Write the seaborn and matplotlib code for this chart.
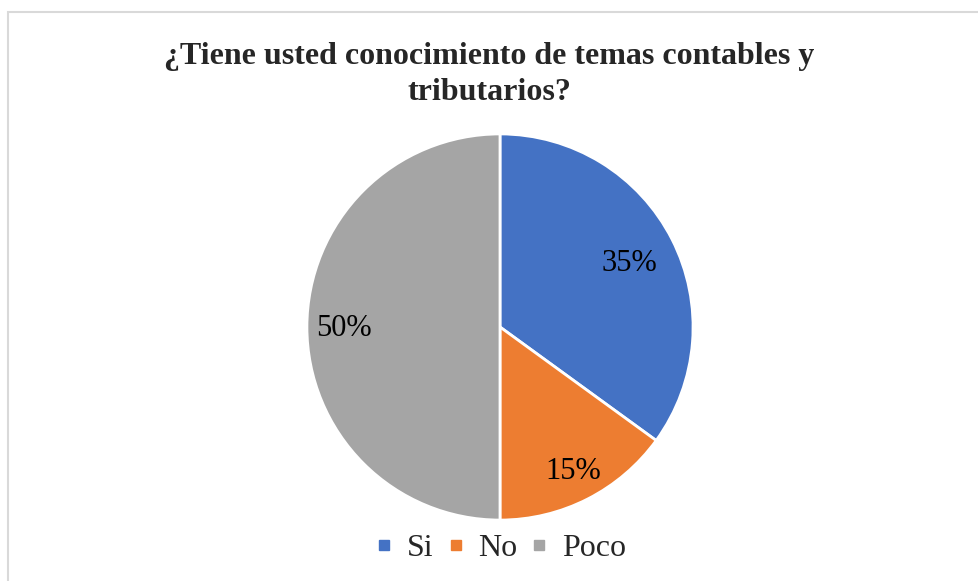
import numpy as np
import pandas as pd
import seaborn as sns
from matplotlib import pyplot as plt
from matplotlib.patches import Rectangle
from matplotlib.lines import Line2D

categories = ['Si', 'No', 'Poco']
values = [35, 15, 50]
colors = ['#4472C4', '#ED7D31', '#A5A5A5']
title = '¿Tiene usted conocimiento de temas contables y\ntributarios?'

sns.set_theme(style="white")
plt.rcParams['font.family'] = ['Liberation Serif', 'DejaVu Serif']

data = pd.DataFrame({'respuesta': categories, 'pct': values})

fig = plt.figure(figsize=(9.79, 5.81), dpi=100)
# light frame of the chart area (cropped on right/bottom)
fig.patches.append(Rectangle((8 / 979, -0.05), 1.1, 1 - 12 / 581 + 0.05,
                             transform=fig.transFigure, fill=False,
                             edgecolor='#D9D9D9', linewidth=1.5))

r = 195
cx, cy = 500, 327
ax = fig.add_axes([(cx - r) / 979, 1 - (cy + r) / 581, 2 * r / 979, 2 * r / 581])
wedges, texts, autotexts = ax.pie(data['pct'], colors=colors, startangle=90,
                                  counterclock=False, autopct='%1.0f%%',
                                  pctdistance=0.76,
                                  wedgeprops=dict(edgecolor='white', linewidth=2),
                                  textprops=dict(fontsize=22, color='black'))
ax.set_aspect('equal')
ax.set_xlim(-1.01, 1.01)
ax.set_ylim(-1.01, 1.01)

# place the percentage labels like the office chart does
label_dist = [0.75, 0.83, 0.81]
for w, t, d in zip(wedges, autotexts, label_dist):
    ang = np.deg2rad((w.theta1 + w.theta2) / 2)
    t.set_position((d * np.cos(ang), d * np.sin(ang) - 0.01))

fig.text(0.5, 1 - 100 / 581, title, ha='center', va='baseline',
         fontsize=23, fontweight='bold', linespacing=1.3)

handles = [Line2D([0], [0], marker='s', linestyle='', markersize=7,
                  markerfacecolor=c, markeredgecolor=c) for c in colors]
fig.legend(handles, categories, loc='center', bbox_to_anchor=(0.511, 1 - 548 / 581),
           ncol=3, frameon=False, fontsize=23, handlelength=0.6,
           handletextpad=0.4, columnspacing=0.4)

fig.savefig('out.png', dpi=100)
